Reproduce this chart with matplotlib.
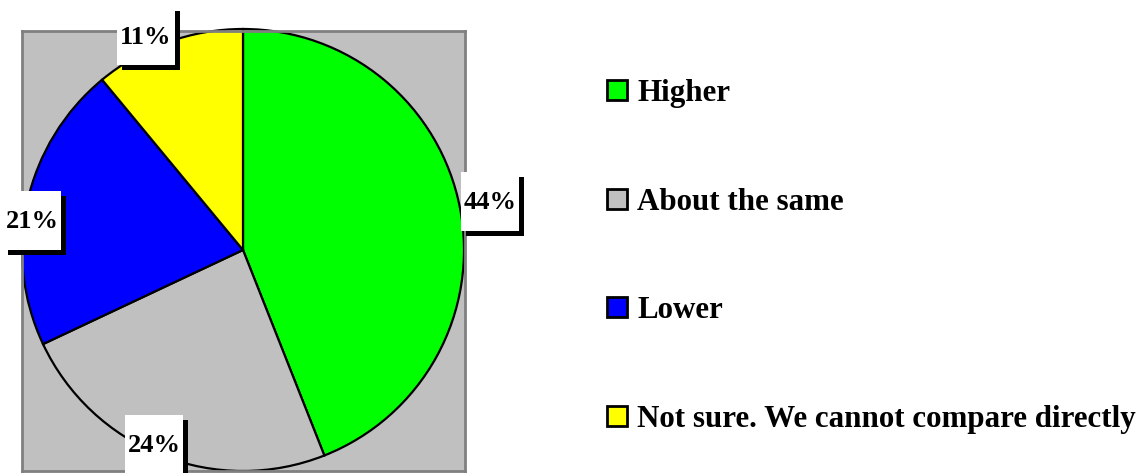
import matplotlib
matplotlib.use("Agg")
import matplotlib.pyplot as plt
from matplotlib.patches import Rectangle

categories = ["Higher", "About the same", "Lower", "Not sure. We cannot compare directly"]
values = [44, 24, 21, 11]
labels = ["44%", "24%", "21%", "11%"]
colors = ["#00ff00", "#c0c0c0", "#0000ff", "#ffff00"]

W, H = 1143, 473
fig = plt.figure(figsize=(W / 100, H / 100), dpi=100)
fam = ["Liberation Serif", "DejaVu Serif"]

# pie axes in pixel-like data coords
x0, x1, ytop, ybot = 22, 465, 31, 471
ax = fig.add_axes([x0 / W, (H - ybot) / H, (x1 - x0) / W, (ybot - ytop) / H])
ax.set_facecolor("#c0c0c0")
cx, cy, r = 243, H - 250, 221
ax.pie(values, colors=colors, startangle=90, counterclock=False,
       center=(cx, cy), radius=r, frame=True,
       wedgeprops=dict(edgecolor="black", linewidth=1.6))
ax.set_xlim(x0, x1)
ax.set_ylim(H - ybot, H - ytop)
ax.set_xticks([]); ax.set_yticks([])
for s in ax.spines.values():
    s.set_color("#808080"); s.set_linewidth(2)

# overlay axes for labels and legend (pixel coords, y down)
ov = fig.add_axes([0, 0, 1, 1], zorder=5)
ov.set_xlim(0, W); ov.set_ylim(H, 0); ov.axis("off")

label_centers = [(490, 201.5), (154, 444.5), (32, 220.5), (146, 36)]
bw, bh, sh = 58, 59, 5
for lab, (lx, ly) in zip(labels, label_centers):
    ov.add_patch(Rectangle((lx - bw / 2 + sh, ly - bh / 2 + sh), bw, bh, facecolor="black", edgecolor="none"))
    ov.add_patch(Rectangle((lx - bw / 2, ly - bh / 2), bw, bh, facecolor="white", edgecolor="none"))
    ov.text(lx, ly + 1, lab, ha="center", va="center", fontsize=19, fontweight="bold", family=fam, color="black")

row0, step = 90, 108.7
for i, (cat, col) in enumerate(zip(categories, colors)):
    yc = row0 + i * step
    ov.add_patch(Rectangle((607, yc - 10), 20, 20, facecolor=col, edgecolor="black", linewidth=2))
    ov.text(637, yc + 11, cat, ha="left", va="baseline", fontsize=22.3, fontweight="bold", family=fam, color="black")

fig.savefig("out.png", dpi=100)
